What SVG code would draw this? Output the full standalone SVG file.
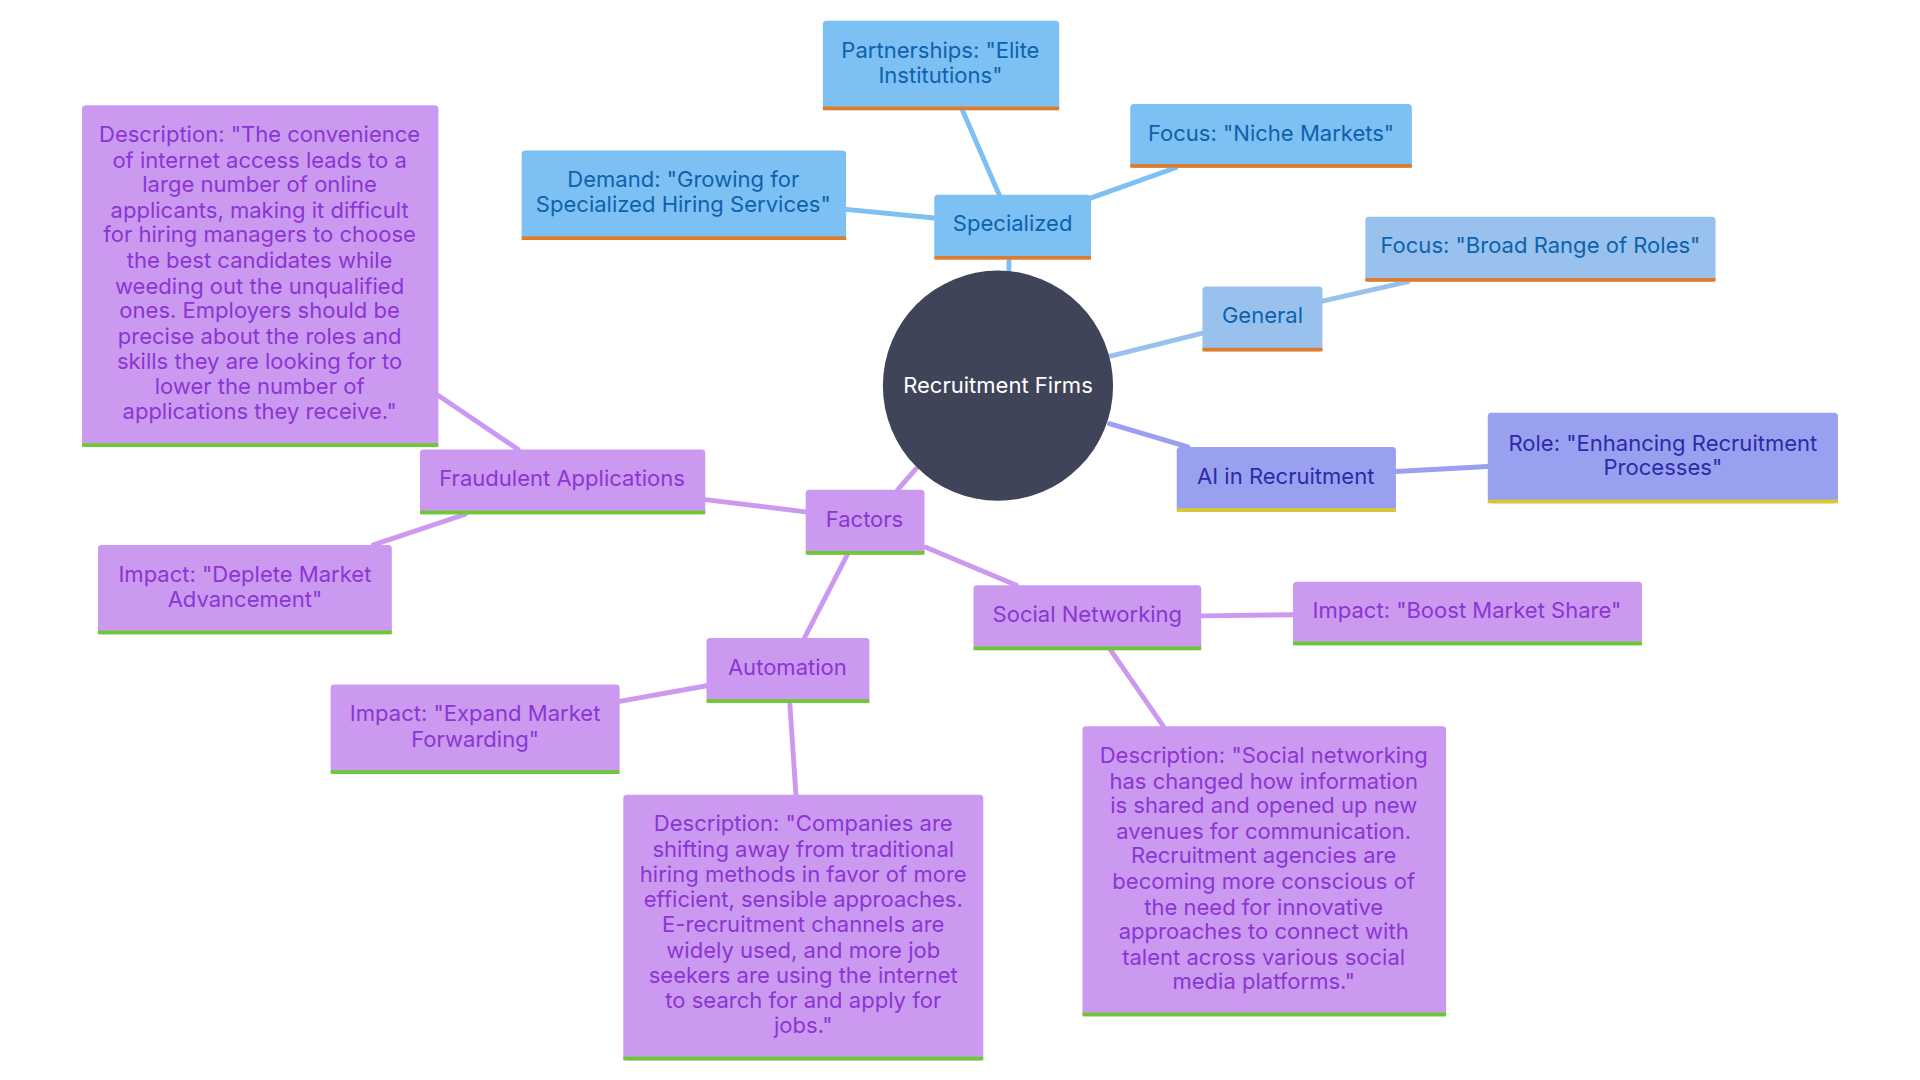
<svg xmlns="http://www.w3.org/2000/svg" width="1920" height="1080" viewBox="0 0 1920 1080">
<style>
text{font-family:"Inter","Noto Sans",sans-serif;font-size:18px;text-anchor:middle}
.b rect.f{fill:#7dc0f3}.b text{fill:#0d62ad}.b rect.u{fill:#e07b2a}
.g rect.f{fill:#99c1ee}.g text{fill:#0d62ad}.g rect.u{fill:#e07b2a}
.a rect.f{fill:#9aa0f0}.a text{fill:#2b2aa8}.a rect.u{fill:#d8c82c}
.p rect.f{fill:#cc99f0}.p text{fill:#8a35d4}.p rect.u{fill:#6acb2e}
.e line{stroke-width:4;stroke-linecap:round}
</style>
<rect width="1920" height="1080" fill="#fff"/>
<g transform="scale(1.2245)">
<g class="e" id="connectors">
<line x1="824" y1="213" x2="824" y2="224" stroke="#7dc0f3"/>
<line x1="816" y1="159" x2="786" y2="90" stroke="#7dc0f3"/>
<line x1="890" y1="162" x2="960" y2="137" stroke="#7dc0f3"/>
<line x1="763" y1="178" x2="691" y2="171" stroke="#7dc0f3"/>
<line x1="906" y1="291" x2="982" y2="272" stroke="#99c1ee"/>
<line x1="1080" y1="246" x2="1150" y2="230" stroke="#99c1ee"/>
<line x1="906" y1="346" x2="970" y2="365" stroke="#9aa0f0"/>
<line x1="1140" y1="385" x2="1215" y2="381" stroke="#9aa0f0"/>
<line x1="748" y1="383" x2="733" y2="400" stroke="#cc99f0"/>
<line x1="658" y1="418" x2="576" y2="408" stroke="#cc99f0"/>
<line x1="423" y1="367" x2="358" y2="323" stroke="#cc99f0"/>
<line x1="380" y1="420" x2="305" y2="445" stroke="#cc99f0"/>
<line x1="756" y1="447" x2="830" y2="478" stroke="#cc99f0"/>
<line x1="981" y1="503" x2="1056" y2="502" stroke="#cc99f0"/>
<line x1="907" y1="531" x2="950" y2="593" stroke="#cc99f0"/>
<line x1="692" y1="453" x2="657" y2="521" stroke="#cc99f0"/>
<line x1="577" y1="560" x2="505" y2="573" stroke="#cc99f0"/>
<line x1="645" y1="574" x2="650" y2="649" stroke="#cc99f0"/>
</g>
<g id="center"><circle cx="815" cy="315" r="94" fill="#3f4459"/><text x="815" y="321" fill="#fff">Recruitment Firms</text></g>
<g id="partnerships" class="b"><rect class="f" x="672" y="17" width="193" height="73" rx="3"/><rect class="u" x="672" y="87" width="193" height="3"/><text x="768" y="47">Partnerships: "Elite</text><text x="768" y="68">Institutions"</text></g>
<g id="niche" class="b"><rect class="f" x="923" y="85" width="230" height="52" rx="3"/><rect class="u" x="923" y="134" width="230" height="3"/><text x="1038" y="115">Focus: "Niche Markets"</text></g>
<g id="demand" class="b"><rect class="f" x="426" y="123" width="265" height="73" rx="3"/><rect class="u" x="426" y="193" width="265" height="3"/><text x="558" y="153">Demand: "Growing for</text><text x="558" y="173">Specialized Hiring Services"</text></g>
<g id="specialized" class="b"><rect class="f" x="763" y="159" width="128" height="53" rx="3"/><rect class="u" x="763" y="209" width="128" height="3"/><text x="827" y="189">Specialized</text></g>
<g id="broad" class="g"><rect class="f" x="1115" y="177" width="286" height="53" rx="3"/><rect class="u" x="1115" y="227" width="286" height="3"/><text x="1258" y="207">Focus: "Broad Range of Roles"</text></g>
<g id="general" class="g"><rect class="f" x="982" y="234" width="98" height="53" rx="3"/><rect class="u" x="982" y="284" width="98" height="3"/><text x="1031" y="264">General</text></g>
<g id="ai" class="a"><rect class="f" x="961" y="365" width="179" height="53" rx="3"/><rect class="u" x="961" y="415" width="179" height="3"/><text x="1050" y="395">AI in Recruitment</text></g>
<g id="role" class="a"><rect class="f" x="1215" y="337" width="286" height="74" rx="3"/><rect class="u" x="1215" y="408" width="286" height="3"/><text x="1358" y="368">Role: "Enhancing Recruitment</text><text x="1358" y="388">Processes"</text></g>
<g id="fraud-desc" class="p"><rect class="f" x="67" y="86" width="291" height="279" rx="3"/><rect class="u" x="67" y="362" width="291" height="3"/>
<text x="212" y="116">Description: "The convenience</text><text x="212" y="137">of internet access leads to a</text><text x="212" y="157">large number of online</text><text x="212" y="178">applicants, making it difficult</text><text x="212" y="198">for hiring managers to choose</text><text x="212" y="219">the best candidates while</text><text x="212" y="240">weeding out the unqualified</text><text x="212" y="260">ones. Employers should be</text><text x="212" y="281">precise about the roles and</text><text x="212" y="301">skills they are looking for to</text><text x="212" y="322">lower the number of</text><text x="212" y="342">applications they receive."</text></g>
<g id="fraud" class="p"><rect class="f" x="343" y="367" width="233" height="53" rx="3"/><rect class="u" x="343" y="417" width="233" height="3"/><text x="459" y="397">Fraudulent Applications</text></g>
<g id="factors" class="p"><rect class="f" x="658" y="400" width="97" height="53" rx="3"/><rect class="u" x="658" y="450" width="97" height="3"/><text x="706" y="430">Factors</text></g>
<g id="deplete" class="p"><rect class="f" x="80" y="445" width="240" height="73" rx="3"/><rect class="u" x="80" y="515" width="240" height="3"/><text x="200" y="475">Impact: "Deplete Market</text><text x="200" y="496">Advancement"</text></g>
<g id="social" class="p"><rect class="f" x="795" y="478" width="186" height="53" rx="3"/><rect class="u" x="795" y="528" width="186" height="3"/><text x="888" y="508">Social Networking</text></g>
<g id="boost" class="p"><rect class="f" x="1056" y="475" width="285" height="52" rx="3"/><rect class="u" x="1056" y="524" width="285" height="3"/><text x="1198" y="505">Impact: "Boost Market Share"</text></g>
<g id="automation" class="p"><rect class="f" x="577" y="521" width="133" height="53" rx="3"/><rect class="u" x="577" y="571" width="133" height="3"/><text x="643" y="551">Automation</text></g>
<g id="expand" class="p"><rect class="f" x="270" y="559" width="236" height="73" rx="3"/><rect class="u" x="270" y="629" width="236" height="3"/><text x="388" y="589">Impact: "Expand Market</text><text x="388" y="610">Forwarding"</text></g>
<g id="auto-desc" class="p"><rect class="f" x="509" y="649" width="294" height="217" rx="3"/><rect class="u" x="509" y="863" width="294" height="3"/>
<text x="656" y="679">Description: "Companies are</text><text x="656" y="700">shifting away from traditional</text><text x="656" y="720">hiring methods in favor of more</text><text x="656" y="741">efficient, sensible approaches.</text><text x="656" y="761">E-recruitment channels are</text><text x="656" y="782">widely used, and more job</text><text x="656" y="803">seekers are using the internet</text><text x="656" y="823">to search for and apply for</text><text x="656" y="844">jobs."</text></g>
<g id="social-desc" class="p"><rect class="f" x="884" y="593" width="297" height="237" rx="3"/><rect class="u" x="884" y="827" width="297" height="3"/>
<text x="1032" y="623">Description: "Social networking</text><text x="1032" y="644">has changed how information</text><text x="1032" y="664">is shared and opened up new</text><text x="1032" y="685">avenues for communication.</text><text x="1032" y="705">Recruitment agencies are</text><text x="1032" y="726">becoming more conscious of</text><text x="1032" y="747">the need for innovative</text><text x="1032" y="767">approaches to connect with</text><text x="1032" y="788">talent across various social</text><text x="1032" y="808">media platforms."</text></g>
</g>
</svg>
